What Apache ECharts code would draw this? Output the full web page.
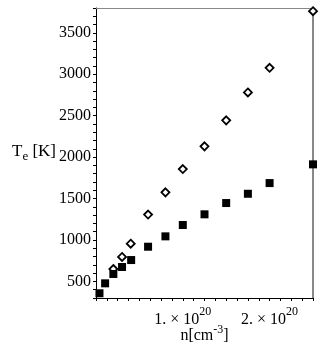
<!DOCTYPE html>
<html>
<head>
<meta charset="utf-8">
<script src="https://cdn.jsdelivr.net/npm/echarts@6/dist/echarts.min.js"></script>
<style>
  html, body { margin: 0; padding: 0; background: #ffffff; }
  #chart { width: 327px; height: 346px; }
</style>
</head>
<body>
<div id="chart"></div>
<script>
  // density in units of 1e20 cm^-3
  const nOpen = [0.2, 0.3, 0.4, 0.6, 0.8, 1.0, 1.25, 1.5, 1.75, 2.0, 2.5]
  const teOpen = [650, 795, 955, 1307, 1575, 1856, 2130, 2444, 2781, 3078, 3762]
  const nFilled = [0.04, 0.105, 0.2, 0.3, 0.405, 0.6, 0.8, 1.0, 1.25, 1.5, 1.75, 2.0, 2.5]
  const teFilled = [357, 477, 590, 674, 758, 919, 1044, 1181, 1310, 1446, 1558, 1687, 1913]
  const yTickLabels = [500, 1000, 1500, 2000, 2500, 3000, 3500]
  const xTickLabels = [1, 2]

  const font = 'Liberation Serif'
  const chart = echarts.init(document.getElementById('chart'))

  chart.setOption({
    animation: false,
    grid: { left: 96, right: 14, top: 8, bottom: 48, outerBoundsMode: 'none' },
    xAxis: [
      {
        type: 'value',
        min: 0,
        max: 2.5,
        interval: 0.125,
        name: '{t|n[cm}{s|-3}{t|]}',
        nameLocation: 'middle',
        nameGap: 26,
        nameMoveOverlap: false,
        nameTextStyle: {
          rich: {
            t: { fontFamily: font, fontSize: 16, color: '#000', verticalAlign: 'bottom', lineHeight: 20 },
            s: { fontFamily: font, fontSize: 12, color: '#000', verticalAlign: 'top', lineHeight: 20 },
          },
        },
        axisLine: { onZero: false, lineStyle: { color: '#000', width: 1 } },
        axisTick: { length: 3, lineStyle: { color: '#000' } },
        splitLine: { show: false },
        axisLabel: {
          interval: 0,
          margin: 8,
          formatter: function (v) {
            const hit = xTickLabels.find((t) => Math.abs(t - v) < 1e-9)
            return hit ? '{b|' + hit + '. × 10}{s|20}' : ''
          },
          rich: {
            b: { fontFamily: font, fontSize: 16, color: '#000', verticalAlign: 'bottom', lineHeight: 22 },
            s: { fontFamily: font, fontSize: 12, color: '#000', verticalAlign: 'top', lineHeight: 22 },
          },
        },
      },
      {
        type: 'value',
        position: 'top',
        axisLine: { show: true, onZero: false, lineStyle: { color: '#888', width: 1 } },
        axisTick: { show: false },
        axisLabel: { show: false },
        splitLine: { show: false },
      },
    ],
    yAxis: [
      {
        type: 'value',
        min: 300,
        max: 3800,
        interval: 100,
        name: '{t|T}{e|e}{t| [K]}',
        nameLocation: 'middle',
        nameRotate: 0,
        nameGap: 40,
        nameMoveOverlap: false,
        nameTextStyle: {
          rich: {
            t: { fontFamily: font, fontSize: 17, color: '#000', verticalAlign: 'top', lineHeight: 20 },
            e: { fontFamily: font, fontSize: 13, color: '#000', verticalAlign: 'bottom', lineHeight: 20 },
          },
        },
        axisLine: { show: true, onZero: false, lineStyle: { color: '#000', width: 1 } },
        axisTick: { length: 3, lineStyle: { color: '#000' } },
        splitLine: { show: false },
        axisLabel: {
          interval: 0,
          margin: 5,
          fontFamily: font,
          fontSize: 16,
          color: '#000',
          formatter: function (v) {
            return yTickLabels.indexOf(v) >= 0 ? String(v) : ''
          },
        },
      },
      {
        type: 'value',
        position: 'right',
        axisLine: { show: true, onZero: false, lineStyle: { color: '#888', width: 2 } },
        axisTick: { show: false },
        axisLabel: { show: false },
        splitLine: { show: false },
      },
    ],
    series: [
      {
        type: 'scatter',
        symbol: 'diamond',
        symbolSize: 8,
        itemStyle: { color: '#fff', borderColor: '#000', borderWidth: 1.8, opacity: 1 },
        data: nOpen.map((n, i) => [n, teOpen[i]]),
      },
      {
        type: 'scatter',
        symbol: 'rect',
        symbolSize: 8,
        itemStyle: { color: '#000', opacity: 1 },
        data: nFilled.map((n, i) => [n, teFilled[i]]),
      },
    ],
  })
</script>
</body>
</html>
